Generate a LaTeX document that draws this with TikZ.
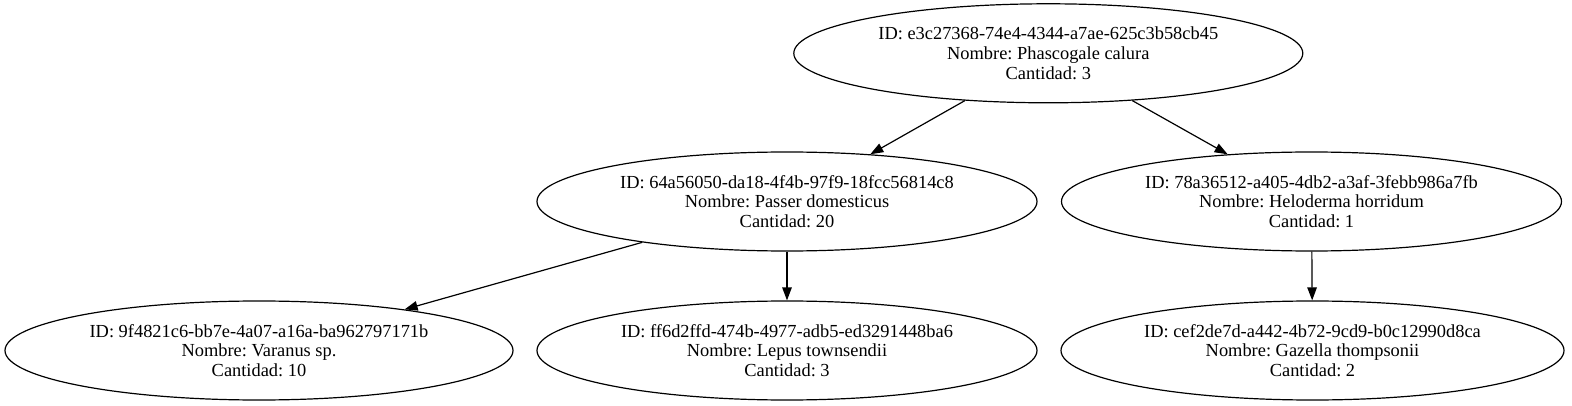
\documentclass[tikz,border=0pt]{standalone}
\usepackage{fontspec}
\setmainfont{Liberation Serif}
\usetikzlibrary{shapes.geometric,arrows.meta}
\frenchspacing
\begin{document}
\begin{tikzpicture}[x=1pt,y=-1pt,
  nodebox/.style={draw,ellipse,line width=1.2pt,inner sep=0pt,minimum height=99pt,align=center,
    font=\fontsize{18.4}{19.6}\selectfont},
  edge/.style={line width=1.2pt,-{Triangle[length=13pt,width=9.5pt]}}]
\useasboundingbox (0,0) rectangle (1572,406);
\node[nodebox,minimum width=509pt] (r) at (1048.3,53.3) {ID: e3c27368-74e4-4344-a7ae-625c3b58cb45\\Nombre: Phascogale calura\\Cantidad: 3};
\node[nodebox,minimum width=500pt] (p) at (787,201.5) {ID: 64a56050-da18-4f4b-97f9-18fcc56814c8\\Nombre: Passer domesticus\\Cantidad: 20};
\node[nodebox,minimum width=500pt] (h) at (1311.5,201.5) {ID: 78a36512-a405-4db2-a3af-3febb986a7fb\\Nombre: Heloderma horridum\\Cantidad: 1};
\node[nodebox,minimum width=508pt] (v) at (259,350.5) {ID: 9f4821c6-bb7e-4a07-a16a-ba962797171b\\Nombre: Varanus sp.\\Cantidad: 10};
\node[nodebox,minimum width=500pt] (l) at (787,350.5) {ID: ff6d2ffd-474b-4977-adb5-ed3291448ba6\\Nombre: Lepus townsendii\\Cantidad: 3};
\node[nodebox,minimum width=503pt] (g) at (1312.5,350.5) {ID: cef2de7d-a442-4b72-9cd9-b0c12990d8ca\\Nombre: Gazella thompsonii\\Cantidad: 2};
\draw[edge] (r) -- (p);
\draw[edge] (r) -- (h);
\draw[edge] (p) -- (v);
\draw[edge] (p) -- (l);
\draw[edge] (h) -- (g);
\end{tikzpicture}
\end{document}
